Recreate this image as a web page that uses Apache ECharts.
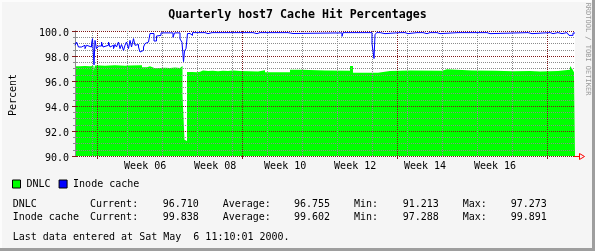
<!DOCTYPE html>
<html><head><meta charset="utf-8">
<script src="https://cdn.jsdelivr.net/npm/echarts@6/dist/echarts.min.js"></script>
<style>html,body{margin:0;padding:0;background:#f5f5f5}#c{width:595px;height:251px}</style>
</head><body><div id="c"></div>
<script>
// x values are days since the start of the graph (Thu Jan 27 2000 11:10), 100-day window
const title = 'Quarterly host7 Cache Hit Percentages';
const yLabelTitle = 'Percent';
const monthStartDays = [4.535, 33.535, 64.535, 94.493];
const mondayDays = [3.535, 10.535, 17.535, 24.535, 31.535, 38.535, 45.535, 52.535, 59.535, 66.493, 73.493, 80.493, 87.493, 94.493];
const weekLabelDays = [14.035, 28.035, 42.035, 56.035, 69.993, 83.993];
const weekLabels = ['Week 06', 'Week 08', 'Week 10', 'Week 12', 'Week 14', 'Week 16'];

const dnlcT = [0,1,2,3,3.7,4,5,6,7,8,9,10,11,13.4,14.4,15,16,17,18,19,20,21,21.5,21.9,22.2,22.4,23.4,24.4,25,25.6,26.6,27.6,28.6,29.6,30.6,31.6,33,36.6,38,43,45.3,50,55,55.6,60.6,63,67,73.4,74.4,79.4,79.8,84,87.6,91,93,96.6,99,99.4,99.8,100];
const dnlcV = [97.18,97.2,97.18,97.2,96.8,97.25,97.22,97.25,97.27,97.25,97.22,97.25,97.27,97.1,97.18,97.02,97.05,97.06,97.04,97.08,97.05,97.2,94.9,91.3,91.21,96.72,96.7,96.74,96.85,96.8,96.82,96.78,96.82,96.8,96.84,96.8,96.77,96.87,96.7,96.9,96.84,96.82,97.2,96.67,96.8,96.84,96.82,96.95,96.84,96.93,96.82,96.78,96.8,96.76,96.8,96.9,97.2,97.0,96.71,96.71];

const inodeT = [0,0.3,0.7,1.3,2,2.3,2.7,3.3,3.5,3.8,4,4.3,4.7,5.3,5.6,6,6.7,7,7.3,7.7,8,8.3,8.7,9,9.3,9.7,10,10.3,10.7,11,11.3,11.7,12,12.3,12.7,13,13.3,13.7,14,14.3,14.7,15,15.8,16.3,16.7,17.2,19.6,19.9,21,21.4,21.7,21.9,22.2,22.5,23,23.5,25,25.4,26,26.6,27.4,27.6,29.4,29.6,31,31.4,33,33.2,34.6,35,35.6,36.4,37,37.4,42.6,43.6,53.4,53.6,54.6,55,59.4,59.8,60,60.3,61,62,65,65.2,66,66.6,68.4,68.6,69.6,70.4,71,71.4,72.4,73,76.6,77,81.4,81.6,82.4,83,90.6,91.4,95,95.6,96.6,97.4,98.4,98.6,98.8,99.6,100];
const inodeV = [98.86,99.12,98.72,98.86,98.59,98.86,98.72,98.99,99.39,97.29,99.25,98.59,98.8,99.12,98.72,98.86,99.12,98.72,98.86,98.59,98.92,98.72,99.12,98.59,98.92,98.45,98.86,99.12,98.59,99.25,98.72,99.39,98.86,98.92,98.72,98.32,98.45,98.72,98.99,99.12,99.25,99.8,99.2,99.6,99.65,99.85,99.5,99.85,99.36,99.1,97.55,98.4,98.6,99.8,99.65,99.87,99.79,99.87,99.79,99.87,99.79,99.87,99.79,99.87,99.79,99.87,99.79,99.87,99.79,99.87,99.79,99.87,99.79,99.87,99.8,99.85,99.57,99.87,99.79,99.87,99.0,97.8,99.7,99.87,99.79,99.87,99.79,99.87,99.79,99.87,99.79,99.87,99.79,99.87,99.79,99.87,99.79,99.87,99.79,99.87,99.79,99.87,99.79,99.87,99.79,99.87,99.79,99.87,99.79,99.87,99.79,99.87,99.65,99.84,99.84];

const seriesNames = ['DNLC', 'Inode cache'];
const seriesColors = ['#00ff00', '#0000ff'];
const statHeads = ['Current:', 'Average:', 'Min:', 'Max:'];
const statValues = [['96.710', '96.755', '91.213', '97.273'], ['99.838', '99.602', '97.288', '99.891']];
const lastLine = 'Last data entered at Sat May  6 11:10:01 2000.';
const credit = 'RRDTOOL / TOBI OETIKER';

const MONO = '"DejaVu Sans Mono", "Liberation Mono", monospace';
const MAJOR = '#801818';
const MINOR = '#8c8c8c';

const chart = echarts.init(document.getElementById('c'), null, {renderer: 'canvas'});

const zip = (t, v) => t.map((x, i) => [x, v[i]]);

const graphics = [];
// frame
graphics.push({type: 'rect', shape: {x: 0, y: 0, width: 595, height: 2}, style: {fill: '#fcfcfc'}, silent: true});
graphics.push({type: 'rect', shape: {x: 0, y: 0, width: 2, height: 251}, style: {fill: '#fcfcfc'}, silent: true});
graphics.push({type: 'rect', shape: {x: 0, y: 248, width: 595, height: 3}, style: {fill: '#9e9e9e'}, silent: true});
graphics.push({type: 'rect', shape: {x: 592, y: 0, width: 3, height: 251}, style: {fill: '#9e9e9e'}, silent: true});
// title
graphics.push({type: 'text', x: 297.5, y: 15, style: {text: title, font: 'bold 11.6px ' + MONO, fill: '#000', textAlign: 'center', textVerticalAlign: 'middle'}});
// y title
graphics.push({type: 'text', x: 13, y: 95, rotation: Math.PI / 2, style: {text: yLabelTitle, font: '10px ' + MONO, fill: '#000', textAlign: 'center', textVerticalAlign: 'middle'}});
// credit
graphics.push({type: 'text', x: 587.5, y: 49, rotation: -Math.PI / 2, style: {text: credit, font: '7px ' + MONO, fill: '#9a9a9a', textAlign: 'center', textVerticalAlign: 'middle'}});
// arrow
graphics.push({type: 'polyline', shape: {points: [[574, 156.5], [579, 156.5]]}, style: {stroke: '#ff0000', lineWidth: 1}});
graphics.push({type: 'polygon', shape: {points: [[579.5, 153.5], [584.5, 156.5], [579.5, 159.5]]}, style: {stroke: '#ff0000', fill: 'none', lineWidth: 1}});
// stats
const rowY = [204, 217.3];
const nameX = 12.7;
const headX = [90, 222.7, 354, 462.7];
const valX = [162.7, 294, 402.7, 510.7];
seriesNames.forEach((n, r) => {
  graphics.push({type: 'text', x: nameX, y: rowY[r], style: {text: n, font: '10px ' + MONO, fill: '#000', textVerticalAlign: 'middle'}});
  statHeads.forEach((h, k) => {
    graphics.push({type: 'text', x: headX[k], y: rowY[r], style: {text: h, font: '10px ' + MONO, fill: '#000', textVerticalAlign: 'middle'}});
    graphics.push({type: 'text', x: valX[k], y: rowY[r], style: {text: statValues[r][k], font: '10px ' + MONO, fill: '#000', textVerticalAlign: 'middle'}});
  });
});
graphics.push({type: 'text', x: 12.7, y: 237.7, style: {text: lastLine, font: '10px ' + MONO, fill: '#000', textVerticalAlign: 'middle'}});

const yAxisBase = {
  type: 'value', min: 90, max: 100, interval: 2, z: 5,
  axisLine: {show: true, lineStyle: {color: MINOR, width: 1}},
  axisTick: {show: true, length: 3, lineStyle: {color: MAJOR}},
  minorTick: {show: true, splitNumber: 4, length: 2, lineStyle: {color: MINOR}},
};

chart.setOption({
  animation: false,
  backgroundColor: '#f5f5f5',
  grid: {left: 75, top: 31, width: 500, height: 125, show: true, backgroundColor: '#ffffff', borderWidth: 0},
  legend: {
    left: 12, top: 179, padding: 0, itemWidth: 8, itemHeight: 8, itemGap: 8, icon: 'rect',
    data: seriesNames,
    itemStyle: {borderColor: '#000', borderWidth: 1},
    textStyle: {fontFamily: MONO, fontSize: 10, color: '#000', padding: [0, 0, 0, 1]},
    selectedMode: false
  },
  xAxis: [
    {
      type: 'value', min: 0, max: 100, z: 6, position: 'bottom',
      axisLine: {show: false},
      axisTick: {show: true, customValues: monthStartDays, length: 3, lineStyle: {color: MAJOR}},
      axisLabel: {show: true, customValues: weekLabelDays, margin: 5, fontFamily: MONO, fontSize: 10, color: '#000',
        formatter: v => { const i = weekLabelDays.findIndex(d => Math.abs(d - v) < 0.01); return i >= 0 ? weekLabels[i] : ''; }},
      splitLine: {show: true, lineStyle: {color: MAJOR, type: [1, 1], width: 1}}
    },
    {
      type: 'value', min: 0, max: 100, z: 5, position: 'bottom',
      axisLine: {show: false},
      axisTick: {show: false, customValues: mondayDays},
      axisLabel: {show: false},
      splitLine: {show: true, lineStyle: {color: MINOR, type: [1, 1], width: 1}}
    }
  ],
  yAxis: [
    Object.assign({}, yAxisBase, {
      position: 'left',
      axisLabel: {show: true, margin: 6, color: '#000', formatter: v => '{a|' + v.toFixed(1) + '}',
        rich: {a: {fontFamily: MONO, fontSize: 10, color: '#000', padding: [5, 0, 0, 0]}}},
      splitLine: {show: true, lineStyle: {color: MAJOR, type: [1, 1], width: 1}},
      minorSplitLine: {show: true, lineStyle: {color: MINOR, type: [1, 1], width: 1}}
    }),
    Object.assign({}, yAxisBase, {
      position: 'right',
      axisLabel: {show: false},
      splitLine: {show: false},
      minorSplitLine: {show: false}
    })
  ],
  series: [
    {
      name: seriesNames[0], type: 'line', step: 'end', data: zip(dnlcT, dnlcV),
      showSymbol: false, z: 2, color: seriesColors[0],
      lineStyle: {width: 0, opacity: 0},
      areaStyle: {color: seriesColors[0], opacity: 1, origin: 'start'}
    },
    {
      name: seriesNames[1], type: 'line', step: 'end', data: zip(inodeT, inodeV),
      showSymbol: false, z: 10, color: seriesColors[1],
      lineStyle: {width: 1, color: seriesColors[1]}
    }
  ],
  graphic: graphics
});
</script></body></html>
